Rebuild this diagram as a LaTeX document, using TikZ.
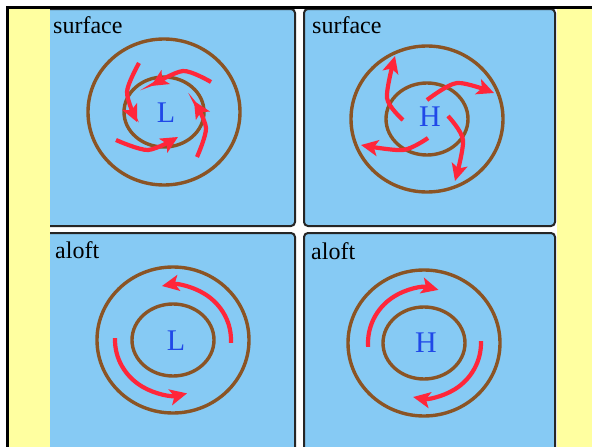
\documentclass[tikz,border=0pt]{standalone}
\usepackage{fontspec}
\setmainfont{Liberation Serif}
\usetikzlibrary{arrows.meta,calc}

\definecolor{sky}{RGB}{134,202,244}
\definecolor{paleyellow}{RGB}{255,255,160}
\definecolor{isobrown}{RGB}{139,84,36}
\definecolor{windred}{RGB}{255,38,58}
\definecolor{letterblue}{RGB}{32,72,232}

\begin{document}
\begin{tikzpicture}[
  x=1pt, y=1pt,
  panel/.style={draw=black!85, line width=2pt, rounded corners=4pt, fill=sky},
  isobar/.style={draw=isobrown, line width=3.4pt},
  wind/.style={draw=windred, line width=4.2pt,
    -{Stealth[length=17pt, width=16pt, inset=4pt]}},
  level/.style={anchor=base west, inner sep=0pt, font=\rmfamily\fontsize{24}{26}\selectfont},
  centre/.style={anchor=base, inner sep=0pt, text=letterblue,
    font=\rmfamily\fontsize{30}{32}\selectfont}
]
\useasboundingbox (0,0) rectangle (592,-447);
\fill[white] (0,0) rectangle (592,-447);
\fill[paleyellow] (8,-8) rectangle (592,-447);
\fill[white] (50,-9) rectangle (557,-447);

% the four panels
\draw[panel] (44,-9) rectangle (295,-226);
\draw[panel] (304,-9) rectangle (555,-226);
\draw[panel] (44,-233) rectangle (295,-460);
\draw[panel] (304,-233) rectangle (555,-460);
\fill[paleyellow] (8,-8) rectangle (50,-447);
\draw[line width=2.5pt] (7.5,-447) |- (592,-7.5);

\coordinate (c1) at (164,-112);
\coordinate (c2) at (427,-119);
\coordinate (c3) at (173,-340);
\coordinate (c4) at (424,-343);

\node[level] (t1) at (53,-33) {surface};
\node[level] (t2) at (312,-33) {surface};
\node[level] (t3) at (55,-258) {aloft};
\node[level] (t4) at (311,-259) {aloft};

% isobars
\draw[isobar] (c1) circle[x radius=76, y radius=73];
\draw[isobar] (c1) circle[x radius=40, y radius=35];
\draw[isobar] (c2) circle[x radius=76, y radius=73];
\draw[isobar] (c2) circle[x radius=41, y radius=36];
\draw[isobar] (c3) circle[x radius=76, y radius=73];
\draw[isobar] (c3) circle[x radius=41, y radius=36];
\draw[isobar] (c4) circle[x radius=76, y radius=73];
\draw[isobar] (c4) circle[x radius=41, y radius=36];

\node[centre] (low1) at (166,-122) {L};
\node[centre] (high1) at (430,-126) {H};
\node[centre] (low2) at (176,-350) {L};
\node[centre] (high2) at (426,-352) {H};

% surface: inflow round the low, outflow from the high
\draw[wind] plot[smooth] coordinates {(139,-63) (127,-92) (137,-122)};
\draw[wind] plot[smooth] coordinates {(211,-82) (183,-71) (151,-86)};
\draw[wind] plot[smooth] coordinates {(197,-157) (206,-128) (194,-101)};
\draw[wind] plot[smooth] coordinates {(116,-140) (148,-150) (178,-137)};

\draw[wind] plot[smooth] coordinates {(403,-120) (387,-98) (395,-56)};
\draw[wind] plot[smooth] coordinates {(427,-100) (457,-83) (494,-93)};
\draw[wind] plot[smooth] coordinates {(448,-116) (463,-140) (455,-181)};
\draw[wind] plot[smooth] coordinates {(428,-138) (403,-150) (361,-145)};

% aloft: flow along the isobars
\draw[wind] ($(c3)+(-3:58 and 55)$) arc[start angle=-3, end angle=101,
  x radius=58, y radius=55];
\draw[wind] ($(c3)+(178:58 and 55)$) arc[start angle=178, end angle=284,
  x radius=58, y radius=55];
\draw[wind] ($(c4)+(184:56 and 55)$) arc[start angle=184, end angle=75,
  x radius=56, y radius=55];
\draw[wind] ($(c4)+(2:57 and 55)$) arc[start angle=2, end angle=-101,
  x radius=57, y radius=55];
\end{tikzpicture}
\end{document}
